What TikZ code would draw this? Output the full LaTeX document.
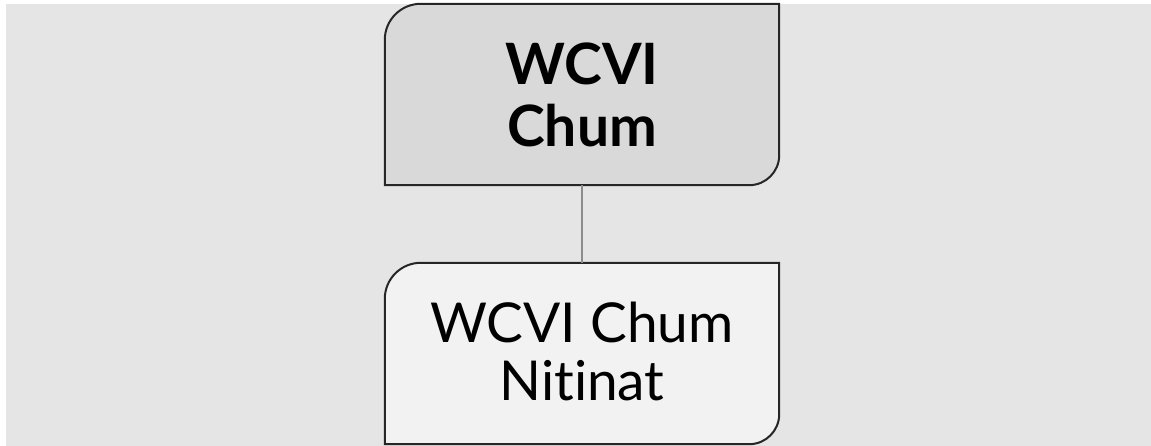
\documentclass[tikz,border=0pt]{standalone}
\usepackage{fontspec}
\setmainfont{Lato}[Ligatures={NoCommon,NoContextual}]
\definecolor{bgc}{HTML}{E5E5E5}
\definecolor{topc}{HTML}{D9D9D9}
\definecolor{botc}{HTML}{F2F2F2}
\definecolor{edgec}{HTML}{262626}
\definecolor{linec}{HTML}{8C8C8C}
\begin{document}
\begin{tikzpicture}[x=1pt,y=1pt,
  boxnode/.style={minimum width=394pt,minimum height=181pt,inner sep=0pt,align=center},
  boxedge/.style={draw=edgec,line width=2pt},
  conn/.style={draw=linec,line width=1.8pt}]
\useasboundingbox (0,0) rectangle (1151,446);
\fill[bgc] (6,0) rectangle (1151,442);
\node[boxnode] (top) at (582,351.5) {};
\node[boxnode] (bot) at (582,92.5) {};
\filldraw[boxedge,fill=topc] (top.south west) -- ([yshift=-36pt]top.north west) arc[start angle=180,end angle=90,radius=36pt] -- (top.north east) -- ([yshift=30pt]top.south east) arc[start angle=0,end angle=-90,radius=30pt] -- cycle;
\filldraw[boxedge,fill=botc] (bot.south west) -- ([yshift=-36pt]bot.north west) arc[start angle=180,end angle=90,radius=36pt] -- (bot.north east) -- ([yshift=30pt]bot.south east) arc[start angle=0,end angle=-90,radius=30pt] -- cycle;
\node[align=center,font=\fontsize{57}{62}\selectfont\bfseries] (toptext) at (top.center) {WCVI\\Chum};
\node[align=center,font=\fontsize{55}{58}\selectfont] (bottext) at ([yshift=2pt]bot.center) {WCVI Chum\\Nitinat};
\draw[conn] (top.south) -- (bot.north);
\end{tikzpicture}
\end{document}
